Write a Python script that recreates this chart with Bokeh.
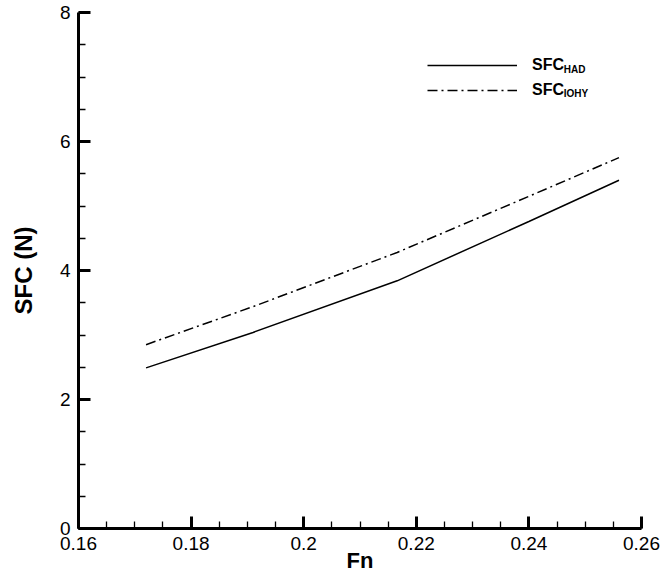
from bokeh.plotting import figure
from bokeh.models import (Range1d, SingleIntervalTicker, CustomJSTickFormatter,
                          Legend, LegendItem, Label)
from bokeh.embed import file_html
from bokeh.resources import INLINE

fn = [0.172, 0.191, 0.2166, 0.24, 0.256]
sfc_had = [2.49, 3.04, 3.84, 4.76, 5.40]
sfc_iohy = [2.85, 3.44, 4.28, 5.15, 5.75]
x_label = "Fn"
y_label = "SFC (N)"

FONT = "Liberation Sans"

p = figure(width=662, height=577, output_backend="svg",
           toolbar_location=None, x_range=Range1d(0.16, 0.26),
           y_range=Range1d(0, 8), min_border_left=78, min_border_top=12,
           min_border_right=21, min_border_bottom=49)
p.outline_line_color = None
p.xgrid.visible = False
p.ygrid.visible = False
p.background_fill_color = "white"
p.border_fill_color = "white"

r1 = p.line(fn, sfc_had, line_color="black", line_width=1.5)
r2 = p.line(fn, sfc_iohy, line_color="black", line_width=1.5, line_dash="10 4 2 4")

p.xaxis.ticker = SingleIntervalTicker(interval=0.02, num_minor_ticks=4)
p.yaxis.ticker = SingleIntervalTicker(interval=2, num_minor_ticks=4)
p.xaxis.formatter = CustomJSTickFormatter(code="return String(parseFloat(tick.toFixed(4)));")

for ax in (p.xaxis[0], p.yaxis[0]):
    ax.axis_line_width = 3
    ax.axis_line_color = "black"
    ax.major_tick_in = 12
    ax.major_tick_out = 0
    ax.major_tick_line_width = 3
    ax.minor_tick_in = 7
    ax.minor_tick_out = 0
    ax.minor_tick_line_width = 1.3
    ax.major_label_text_font = FONT
    ax.major_label_text_font_size = "19px"
    ax.major_label_text_color = "black"
    ax.major_label_standoff = 8
    ax.axis_label_text_font = FONT
    ax.axis_label_text_font_style = "bold"
    ax.axis_label_text_color = "black"

p.xaxis.axis_label = x_label
p.xaxis.axis_label_text_font_size = "22px"
p.xaxis.axis_label_standoff = -5
p.yaxis.axis_label = y_label
p.yaxis.axis_label_text_font_size = "24px"
p.yaxis.axis_label_standoff = 20

legend = Legend(items=[LegendItem(label="SFC", renderers=[r1]),
                       LegendItem(label="SFC", renderers=[r2])],
                location=(349, 428), padding=0, margin=0, spacing=5,
                glyph_width=90, glyph_height=20, label_height=20,
                label_standoff=15, label_text_font=FONT,
                label_text_font_style="bold", label_text_font_size="16px",
                label_text_color="black",
                border_line_color=None, background_fill_alpha=0)
p.add_layout(legend)

for txt, yv in (("HAD", 7.12), ("IOHY", 6.74)):
    p.add_layout(Label(x=0.2462, y=yv, text=txt, text_font=FONT,
                       text_font_style="bold", text_font_size="10px",
                       text_baseline="middle", text_color="black"))

open("out.html", "w").write(file_html(p, INLINE))
